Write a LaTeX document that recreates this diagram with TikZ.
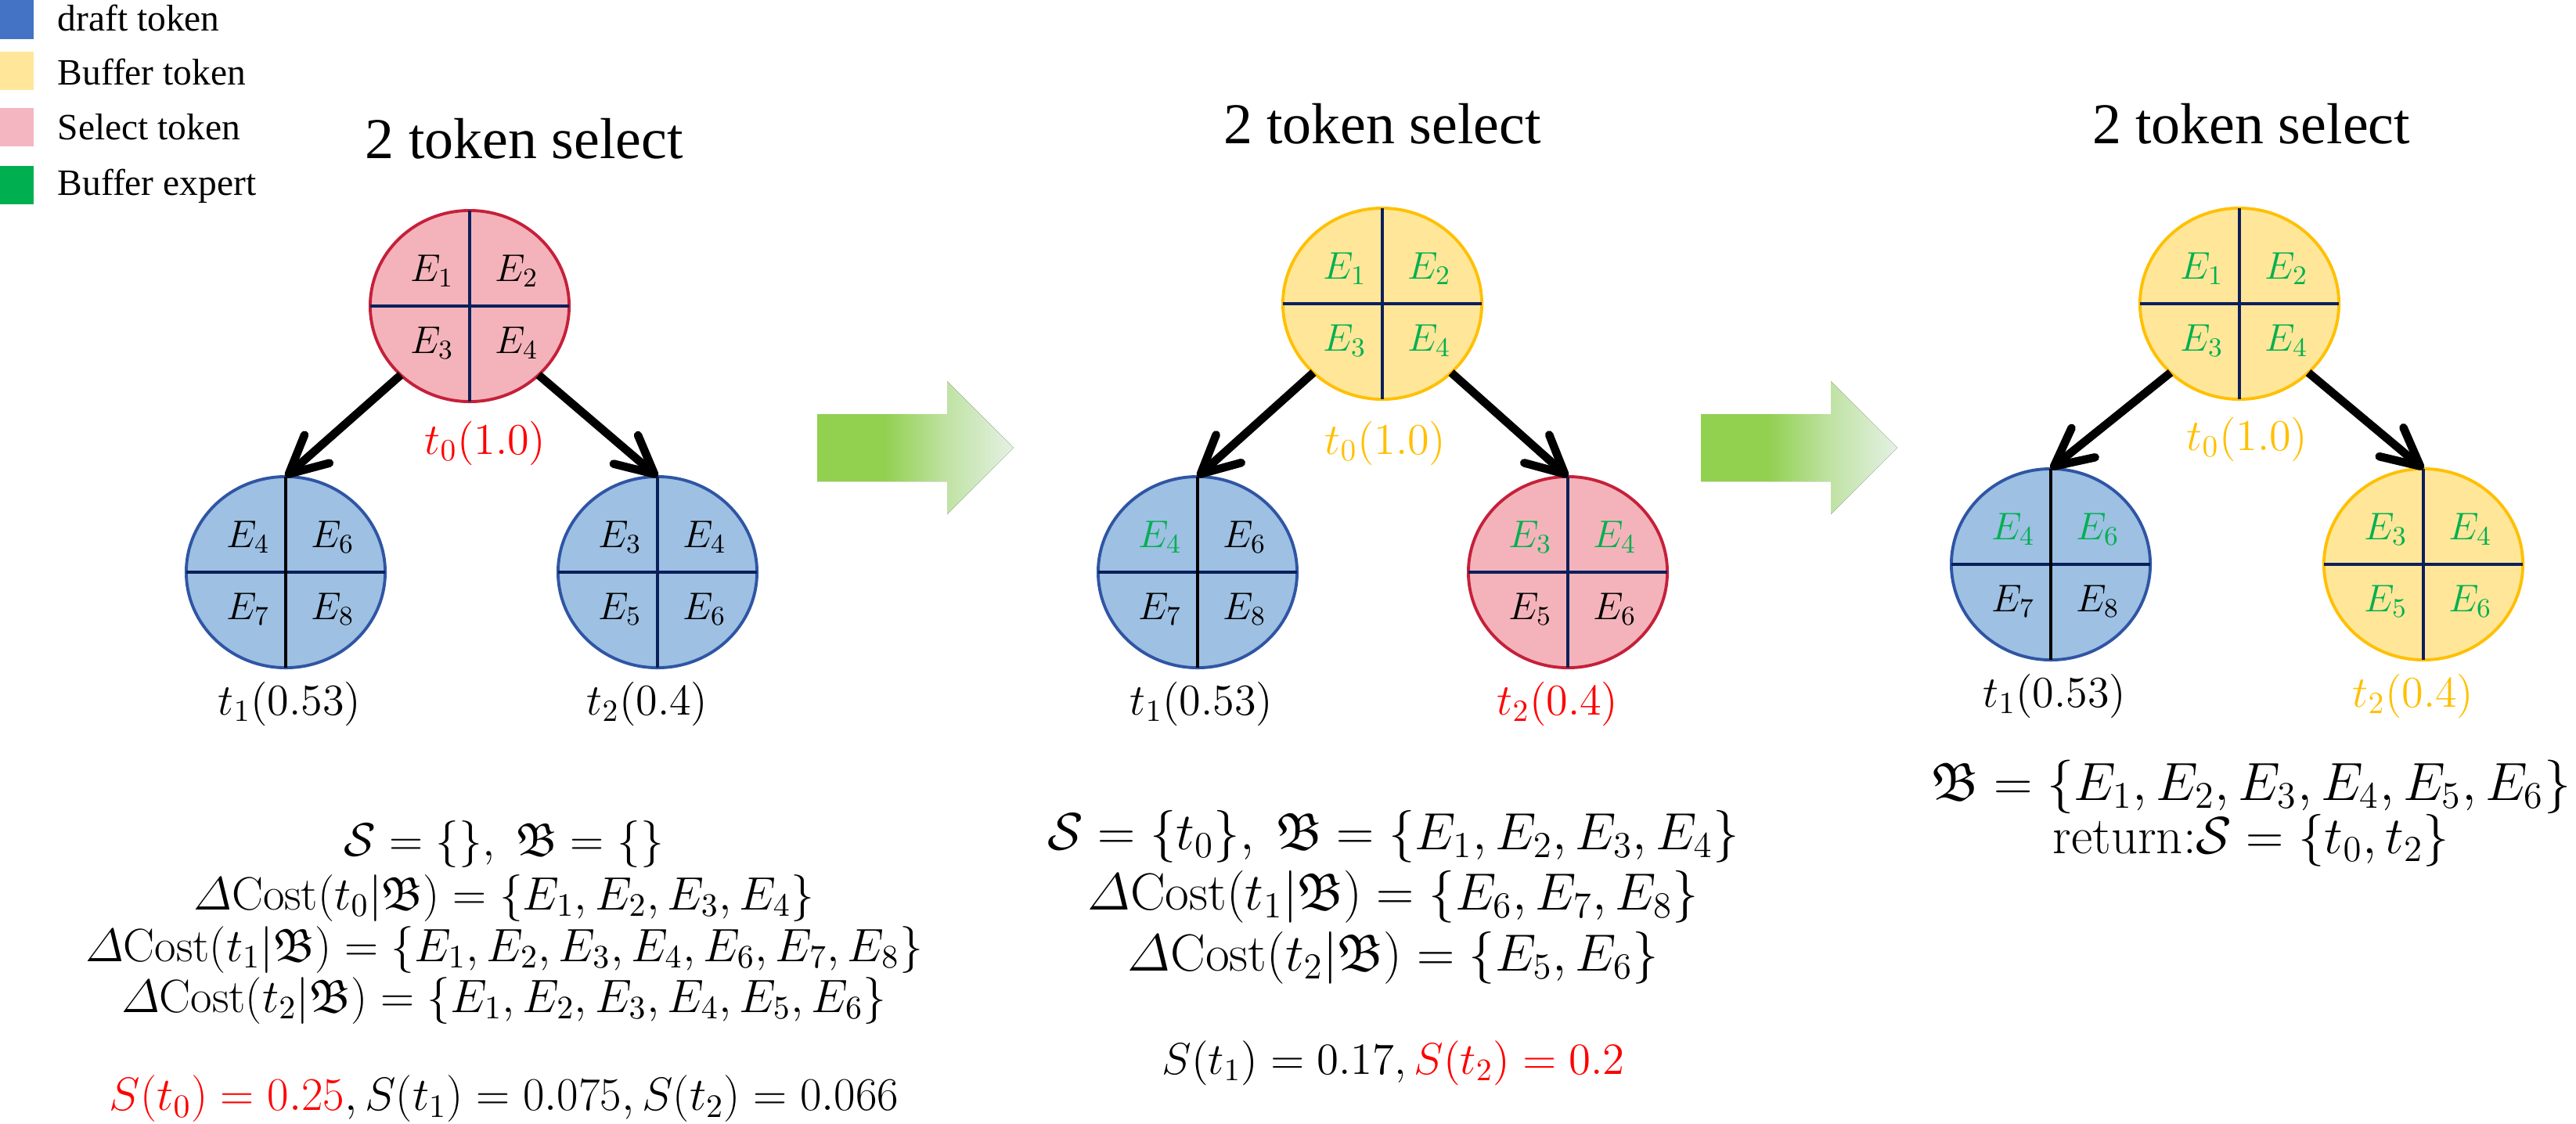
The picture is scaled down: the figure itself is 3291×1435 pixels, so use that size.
\RequirePackage{fix-cm}
\documentclass[tikz,border=0pt]{standalone}
\usepackage[no-math]{fontspec}
\setmainfont{Liberation Serif}
\usepackage{amsmath,amssymb}
\DeclareFontFamily{U}{euf}{}
\DeclareFontShape{U}{euf}{m}{n}{<-6>eufm5<6-8>eufm7<8->eufm10}{}
\usetikzlibrary{arrows.meta,shapes.geometric,calc}

\definecolor{legblue}{HTML}{4472C4}
\definecolor{legyel}{HTML}{FFE699}
\definecolor{legpink}{HTML}{F4B6C0}
\definecolor{leggreen}{HTML}{00B050}
\definecolor{cblue}{HTML}{9DC0E3}
\definecolor{cbluedraw}{HTML}{2F55A4}
\definecolor{cyel}{HTML}{FFE699}
\definecolor{cyeldraw}{HTML}{FFC000}
\definecolor{cpink}{HTML}{F4B3BA}
\definecolor{cpinkdraw}{HTML}{C5203A}
\definecolor{divnavy}{HTML}{0B1F5B}
\definecolor{egreen}{HTML}{00B050}
\definecolor{tred}{HTML}{FF0000}
\definecolor{tyel}{HTML}{FFC000}
\definecolor{ga}{HTML}{92D050}
\definecolor{gb}{HTML}{C0E2A4}
\definecolor{gc}{HTML}{E4F1E4}

\pgfdeclarehorizontalshading{garrow}{100bp}{color(0bp)=(ga); color(25bp)=(ga); color(42bp)=(ga); color(58bp)=(gb); color(75bp)=(gc); color(100bp)=(gc)}

\newcommand\Eg[1]{\textcolor{egreen}{$E_{#1}$}}
\newcommand\Eb[1]{$E_{#1}$}
\newcommand\dcost[1]{\varDelta\mathrm{Cost}(t_{#1}|\mathfrak{B})}

\tikzset{
  tok/.style={ellipse, minimum width=2.54cm, minimum height=2.44cm, inner sep=0pt, outer sep=0pt, line width=1.1pt},
  bluetok/.style={tok, fill=cblue, draw=cbluedraw},
  yeltok/.style={tok, fill=cyel, draw=cyeldraw},
  pinktok/.style={tok, fill=cpink, draw=cpinkdraw},
  divline/.style={line width=1.2pt, draw=divnavy},
  elab/.style={inner sep=0pt, font=\fontsize{14}{16}\selectfont},
  tlab/.style={anchor=base, inner sep=0pt, font=\fontsize{16}{19}\selectfont},
  ttl/.style={anchor=base, inner sep=0pt, font=\fontsize{21}{25}\selectfont},
  legsq/.style={minimum width=0.43cm, minimum height=0.49cm, inner sep=0pt, outer sep=0pt, draw=none},
  legtxt/.style={anchor=base west, inner sep=0pt, font=\fontsize{13.5}{16}\selectfont},
  edge/.style={line width=3pt, -{Straight Barb[length=4.8mm,width=4.8mm,round]}},
  eqbig/.style={anchor=base, inner sep=0pt, font=\fontsize{19}{23}\selectfont},
  eqmid/.style={anchor=base, inner sep=0pt, font=\fontsize{17}{20}\selectfont},
  eqsm/.style={anchor=base, inner sep=0pt, font=\fontsize{16.2}{20}\selectfont},
  garrowsty/.style={shading=garrow, draw=none}
}

\newcommand\tokc[8]{%
  \node[#3] (#1) at (#2) {};
  \draw[divline] (#1.west) -- (#1.east);
  \draw[divline,#4] (#1.north) -- (#1.south);
  \node[elab] (#1a) at ($(#1.center)+(-48,-45)$) {#5};
  \node[elab] (#1b) at ($(#1.center)+(60,-45)$) {#6};
  \node[elab] (#1c) at ($(#1.center)+(-48,47)$) {#7};
  \node[elab] (#1d) at ($(#1.center)+(60,47)$) {#8};
}

\begin{document}
\begin{tikzpicture}[x=0.01cm,y=-0.01cm]
\useasboundingbox (0,0) rectangle (3291,1435);

% legend
\node[legsq, fill=legblue] (lg1) at (21.5,25) {};
\node[legsq, fill=legyel] (lg2) at (21.5,90) {};
\node[legsq, fill=legpink] (lg3) at (21.5,162) {};
\node[legsq, fill=leggreen] (lg4) at (21.5,236) {};
\node[legtxt] (lt1) at (73,39) {draft token};
\node[legtxt] (lt2) at (73,108) {Buffer token};
\node[legtxt] (lt3) at (73,178) {Select token};
\node[legtxt] (lt4) at (73,249) {Buffer expert};

% titles
\node[ttl] (ti1) at (670,202) {2 token select};
\node[ttl] (ti2) at (1766,183) {2 token select};
\node[ttl] (ti3) at (2876,183) {2 token select};

% ---------- panel 1
\tokc{pa}{600,391}{pinktok}{}{\Eb1}{\Eb2}{\Eb3}{\Eb4}
\tokc{pb}{365,731}{bluetok}{draw=black}{\Eb4}{\Eb6}{\Eb7}{\Eb8}
\tokc{pc}{840,731}{bluetok}{}{\Eb3}{\Eb4}{\Eb5}{\Eb6}
\draw[edge] (pa.225) -- (pb.north);
\draw[edge] (pa.315) -- (pc.north);
\node[tlab, text=tred] (la0) at (620,580) {$t_0(1.0)$};
\node[tlab] (la1) at (370,913) {$t_1(0.53)$};
\node[tlab] (la2) at (827,913) {$t_2(0.4)$};

\node[eqmid] (e1a) at (644,1093) {$\mathcal{S}=\{\},\;\mathfrak{B}=\{\}$};
\node[eqmid] (e1b) at (644,1162) {$\dcost0=\{E_1,E_2,E_3,E_4\}$};
\node[eqmid] (e1c) at (644,1228) {$\dcost1=\{E_1,E_2,E_3,E_4,E_6,E_7,E_8\}$};
\node[eqmid] (e1d) at (644,1293) {$\dcost2=\{E_1,E_2,E_3,E_4,E_5,E_6\}$};
\node[eqmid] (e1e) at (644,1418) {$\textcolor{tred}{S(t_0)=0.25},S(t_1)=0.075,S(t_2)=0.066$};

% green arrows
\fill[garrowsty] (1044,529) -- (1210,529) -- (1210,487) -- (1295,572) -- (1210,657) -- (1210,615) -- (1044,615) -- cycle;
\fill[garrowsty] (2173,529) -- (2339,529) -- (2339,487) -- (2424,572) -- (2339,657) -- (2339,615) -- (2173,615) -- cycle;

% ---------- panel 2
\tokc{qa}{1766,388}{yeltok}{}{\Eg1}{\Eg2}{\Eg3}{\Eg4}
\tokc{qb}{1530,731}{bluetok}{draw=black}{\Eg4}{\Eb6}{\Eb7}{\Eb8}
\tokc{qc}{2003,731}{pinktok}{}{\Eg3}{\Eg4}{\Eb5}{\Eb6}
\draw[edge] (qa.225) -- (qb.north);
\draw[edge] (qa.315) -- (qc.north);
\node[tlab, text=tyel] (lb0) at (1770,580) {$t_0(1.0)$};
\node[tlab] (lb1) at (1535,913) {$t_1(0.53)$};
\node[tlab, text=tred] (lb2) at (1990,913) {$t_2(0.4)$};

\node[eqbig] (e2a) at (1780,1085) {$\mathcal{S}=\{t_0\},\ \mathfrak{B}=\{E_1,E_2,E_3,E_4\}$};
\node[eqbig] (e2b) at (1780,1162) {$\dcost1=\{E_6,E_7,E_8\}$};
\node[eqbig] (e2c) at (1780,1240) {$\dcost2=\{E_5,E_6\}$};
\node[eqsm] (e2d) at (1780,1372) {$S(t_1)=0.17,\textcolor{tred}{S(t_2)=0.2}$};

% ---------- panel 3
\tokc{ra}{2861,388}{yeltok}{}{\Eg1}{\Eg2}{\Eg3}{\Eg4}
\tokc{rb}{2620,721}{bluetok}{draw=black}{\Eg4}{\Eg6}{\Eb7}{\Eb8}
\tokc{rc}{3096,721}{yeltok}{}{\Eg3}{\Eg4}{\Eg5}{\Eg6}
\draw[edge] (ra.225) -- (rb.north);
\draw[edge] (ra.315) -- (rc.north);
\node[tlab, text=tyel] (lc0) at (2871,575) {$t_0(1.0)$};
\node[tlab] (lc1) at (2625,903) {$t_1(0.53)$};
\node[tlab, text=tyel] (lc2) at (3083,903) {$t_2(0.4)$};

\node[eqbig, font=\fontsize{19.5}{23}\selectfont] (e3a) at (2876,1022) {$\mathfrak{B}=\{E_1,E_2,E_3,E_4,E_5,E_6\}$};
\node[eqbig] (e3b) at (2876,1090) {$\mathrm{return{:}}\mathcal{S}=\{t_0,t_2\}$};
\end{tikzpicture}
\end{document}
